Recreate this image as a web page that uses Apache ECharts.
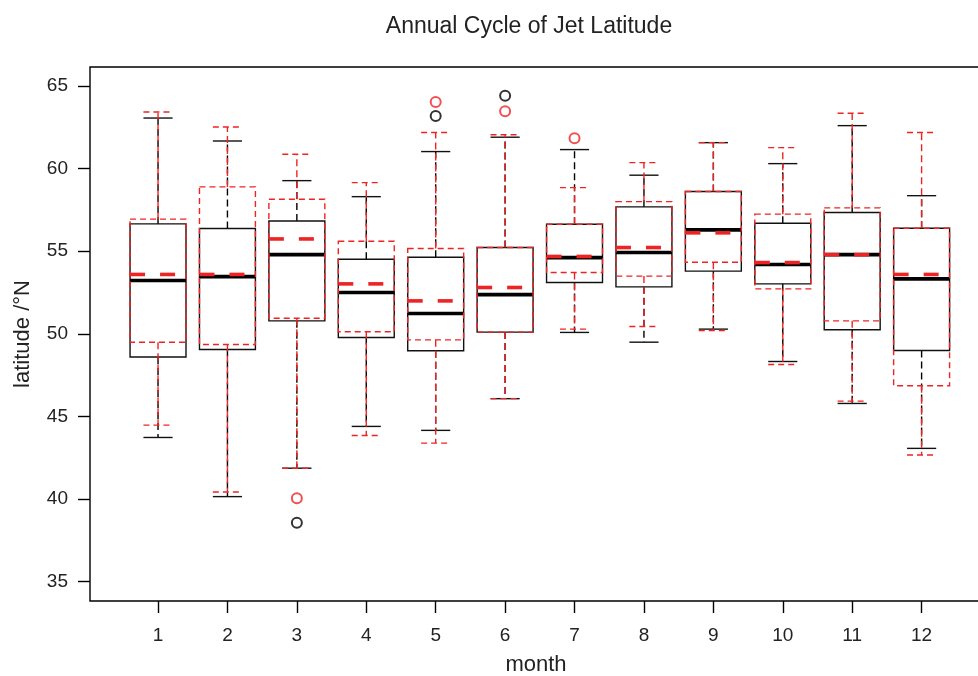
<!DOCTYPE html>
<html>
<head>
<meta charset="utf-8">
<script src="https://cdn.jsdelivr.net/npm/echarts@6/dist/echarts.min.js"></script>
<style>html,body{margin:0;padding:0;background:#fff}#c{width:978px;height:676px}</style>
</head>
<body>
<div id="c"></div>
<script>
// ---- data ----
var months = [1,2,3,4,5,6,7,8,9,10,11,12];
var yTicks = [35,40,45,50,55,60,65];
// black (solid) boxes: lower whisker, Q1, median, Q3, upper whisker
var blackLow  = [43.72,40.14,41.86,44.39,44.15,46.07,50.08,49.49,50.28,48.32,45.78,43.06];
var blackQ1   = [48.59,49.05,50.78,49.77,48.97,50.10,53.10,52.84,53.79,53.02,50.24,48.99];
var blackMed  = [53.22,53.46,54.79,52.50,51.23,52.37,54.61,54.92,56.29,54.19,54.79,53.32];
var blackQ3   = [56.65,56.37,56.83,54.51,54.63,55.22,56.63,57.68,58.61,56.69,57.34,56.39];
var blackHigh = [63.06,61.67,59.27,58.30,61.03,61.90,61.15,59.60,61.57,60.30,62.60,58.36];
// red (dashed) boxes
var redLow  = [44.47,40.42,41.86,43.84,43.38,46.07,50.28,50.44,50.20,48.14,45.92,42.66];
var redQ1   = [49.49,49.35,50.94,50.12,49.63,50.10,53.71,53.49,54.33,52.72,50.78,46.85];
var redMed  = [53.59,53.59,55.74,53.02,51.99,52.80,54.68,55.22,56.11,54.31,54.79,53.59];
var redQ3   = [56.94,58.89,58.14,55.60,55.16,55.22,56.63,58.00,58.61,57.24,57.62,56.39];
var redHigh = [63.43,62.52,60.87,59.15,62.18,62.05,58.85,60.36,61.57,61.27,63.35,62.18];
// outliers [month, value]
var blackOut = [[3,38.56],[5,63.19],[6,64.41]];
var redOut   = [[3,40.04],[5,64.03],[6,63.47],[7,61.84]];

var RED = '#ee2424';

function build(low,q1,med,q3,high){
  return months.map(function(m,i){ return [m,low[i],q1[i],med[i],q3[i],high[i]]; });
}

function makeRender(isRed){
  return function(params, api){
    var x = api.value(0);
    var lo = api.coord([x, api.value(1)]);
    var pq1 = api.coord([x, api.value(2)]);
    var pm = api.coord([x, api.value(3)]);
    var pq3 = api.coord([x, api.value(4)]);
    var hi = api.coord([x, api.value(5)]);
    var unit = api.size([1,0])[0];
    var hw = unit*0.403, cw = unit*0.21;
    var cx = pm[0];
    var col = isRed ? RED : '#000';
    var thin = isRed ? {stroke:col, lineWidth:1.4, lineDash:[6,4], fill:null}
                     : {stroke:'#111', lineWidth:1.4, fill:null};
    var whisk = {stroke:col, lineWidth:1.4, lineDash:[7,4]};
    var cap = isRed ? {stroke:col, lineWidth:1.4, lineDash:[6,4]} : {stroke:'#111', lineWidth:1.4};
    var medStyle = isRed ? {stroke:col, lineWidth:3.6, lineDash:[15,15]} : {stroke:'#000', lineWidth:3.6};
    var children = [
      {type:'line', shape:{x1:cx,y1:pq3[1],x2:cx,y2:hi[1]}, style:whisk},
      {type:'line', shape:{x1:cx,y1:pq1[1],x2:cx,y2:lo[1]}, style:whisk},
      {type:'line', shape:{x1:cx-cw,y1:hi[1],x2:cx+cw,y2:hi[1]}, style:cap},
      {type:'line', shape:{x1:cx-cw,y1:lo[1],x2:cx+cw,y2:lo[1]}, style:cap},
      {type:'rect', shape:{x:cx-hw,y:pq3[1],width:2*hw,height:pq1[1]-pq3[1]}, style:thin},
      {type:'line', shape:{x1:cx-hw,y1:pm[1],x2:cx+hw,y2:pm[1]}, style:medStyle}
    ];
    return {type:'group', children:children};
  };
}

var chart = echarts.init(document.getElementById('c'), null, {renderer:'canvas'});
var FONT = 'Liberation Sans';
chart.setOption({
  animation:false,
  backgroundColor:'#fff',
  title:{text:'Annual Cycle of Jet Latitude', left:524, top:10, textAlign:'center',
    textStyle:{fontFamily:FONT, fontSize:23, fontWeight:'normal', color:'#222'}},
  grid:{left:90, top:67, right:-4, bottom:75, show:true, borderColor:'#000', borderWidth:1.4,
    backgroundColor:'transparent', containLabel:false, outerBoundsMode:'none'},
  xAxis:{type:'value', min:0.02, max:12.87, interval:1,
    name:'month', nameLocation:'middle', nameGap:53,
    nameTextStyle:{fontFamily:FONT, fontSize:22, color:'#222'},
    axisLine:{show:false}, splitLine:{show:false},
    axisTick:{show:true, length:12, inside:false, lineStyle:{color:'#000', width:1.4},
      customValues:months},
    axisLabel:{fontFamily:FONT, fontSize:19, color:'#222', margin:25, customValues:months,
      formatter:function(v){return String(v);}}
  },
  yAxis:{type:'value', min:33.82, max:66.15,
    name:'latitude /°N', nameLocation:'middle', nameGap:56, nameRotate:90,
    nameTextStyle:{fontFamily:FONT, fontSize:22, color:'#222'},
    axisLine:{show:false}, splitLine:{show:false},
    axisTick:{show:true, length:12, lineStyle:{color:'#000', width:1.4}, customValues:yTicks},
    axisLabel:{fontFamily:FONT, fontSize:19, color:'#222', margin:22, customValues:yTicks}
  },
  series:[
    {type:'custom', renderItem:makeRender(false), data:build(blackLow,blackQ1,blackMed,blackQ3,blackHigh), z:2, clip:false},
    {type:'custom', renderItem:makeRender(true), data:build(redLow,redQ1,redMed,redQ3,redHigh), z:3, clip:false},
    {type:'scatter', data:blackOut, symbol:'emptyCircle', symbolSize:10, z:4,
      itemStyle:{color:'#000', borderColor:'#000', borderWidth:1.3}},
    {type:'scatter', data:redOut, symbol:'emptyCircle', symbolSize:10, z:4,
      itemStyle:{color:RED, borderColor:RED, borderWidth:1.3}}
  ]
});
</script>
</body>
</html>
